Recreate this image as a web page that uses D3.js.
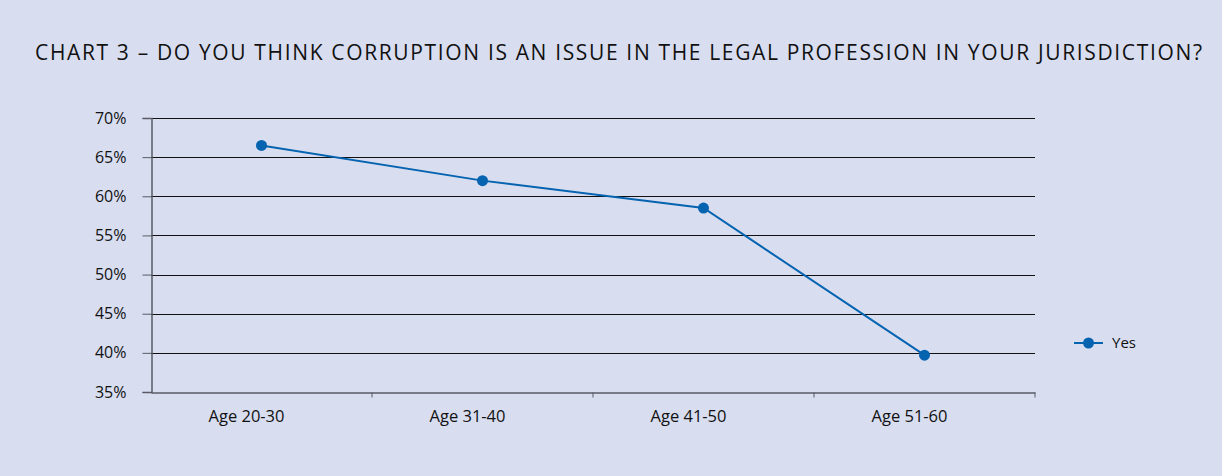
<!DOCTYPE html>
<html>
<head>
<meta charset="utf-8">
<script src="https://cdn.jsdelivr.net/npm/d3@7"></script>
<style>
body { margin:0; background:#d8def0; }
text { font-family: "Open Sans", "Noto Sans", sans-serif; fill:#111; }
</style>
</head>
<body>
<script>
var categories = ["Age 20-30", "Age 31-40", "Age 41-50", "Age 51-60"];
var yesValues = [0.665, 0.62, 0.585, 0.397];
var yTicks = [0.35, 0.40, 0.45, 0.50, 0.55, 0.60, 0.65, 0.70];
var seriesName = "Yes";
var title = "CHART 3 – DO YOU THINK CORRUPTION IS AN ISSUE IN THE LEGAL PROFESSION IN YOUR JURISDICTION?";

var width = 1222, height = 476;
var margin = {left:151, right:187, top:118, bottom:84};
var blue = "#0563b0";

var svg = d3.select("body").append("svg").attr("width",width).attr("height",height);
svg.append("rect").attr("width",width).attr("height",height).attr("fill","#d8def0");

svg.append("text")
	.attr("x",35).attr("y",60)
	.attr("font-size","21px")
	.attr("textLength",1167).attr("lengthAdjust","spacing")
	.text(title);

var x = d3.scaleBand().domain(categories).range([margin.left, width-margin.right]);
var y = d3.scaleLinear().domain([0.35,0.70]).range([height-margin.bottom, margin.top]);

//gridlines
svg.append("g").selectAll("line")
	.data(yTicks.slice(1))
	.enter().append("line")
		.attr("x1",margin.left).attr("x2",width-margin.right)
		.attr("y1",function(d){ return Math.round(y(d))+0.5; })
		.attr("y2",function(d){ return Math.round(y(d))+0.5; })
		.attr("stroke","#111").attr("stroke-width",1);

var yAxis = svg.append("g")
	.attr("transform","translate("+(margin.left+0.5)+",0)")
	.call(d3.axisLeft(y).tickValues(yTicks).tickFormat(d3.format(".0%")).tickSize(9).tickPadding(16));
yAxis.select(".domain").attr("stroke","#5a5a66").attr("stroke-width",1.5);
yAxis.selectAll(".tick line").attr("stroke","#5a5a66");
yAxis.selectAll("text").attr("font-size","16px").style("font-family","'Open Sans', sans-serif");

var xAxis = svg.append("g")
	.attr("transform","translate(0,"+(height-margin.bottom+0.5)+")")
	.call(d3.axisBottom(x).tickSize(0).tickPadding(18));
xAxis.select(".domain").attr("stroke","#5a5a66").attr("stroke-width",1.5);
xAxis.selectAll("text").attr("font-size","16.5px").attr("dx",-15).style("font-family","'Open Sans', sans-serif");

//category boundary ticks
xAxis.selectAll("line.cat")
	.data(categories)
	.enter().append("line")
		.attr("class","cat")
		.attr("x1",function(d){ return x(d)+x.bandwidth(); })
		.attr("x2",function(d){ return x(d)+x.bandwidth(); })
		.attr("y1",0).attr("y2",5)
		.attr("stroke","#5a5a66");

var line = d3.line()
	.x(function(d,i){ return x(categories[i])+x.bandwidth()/2; })
	.y(function(d){ return y(d); });

svg.append("path").datum(yesValues)
	.attr("d",line).attr("fill","none").attr("stroke",blue).attr("stroke-width",2);

svg.selectAll("circle.pt")
	.data(yesValues)
	.enter().append("circle")
		.attr("class","pt")
		.attr("cx",function(d,i){ return x(categories[i])+x.bandwidth()/2; })
		.attr("cy",function(d){ return y(d); })
		.attr("r",5.5).attr("fill",blue);

//legend
var lg = svg.append("g").attr("transform","translate(1074,343)");
lg.append("line").attr("x1",0).attr("x2",29).attr("stroke",blue).attr("stroke-width",2);
lg.append("circle").attr("cx",14.5).attr("r",5.5).attr("fill",blue);
lg.append("text").attr("x",38).attr("dy","0.35em").attr("font-size","15px").text(seriesName);
</script>
</body>
</html>
